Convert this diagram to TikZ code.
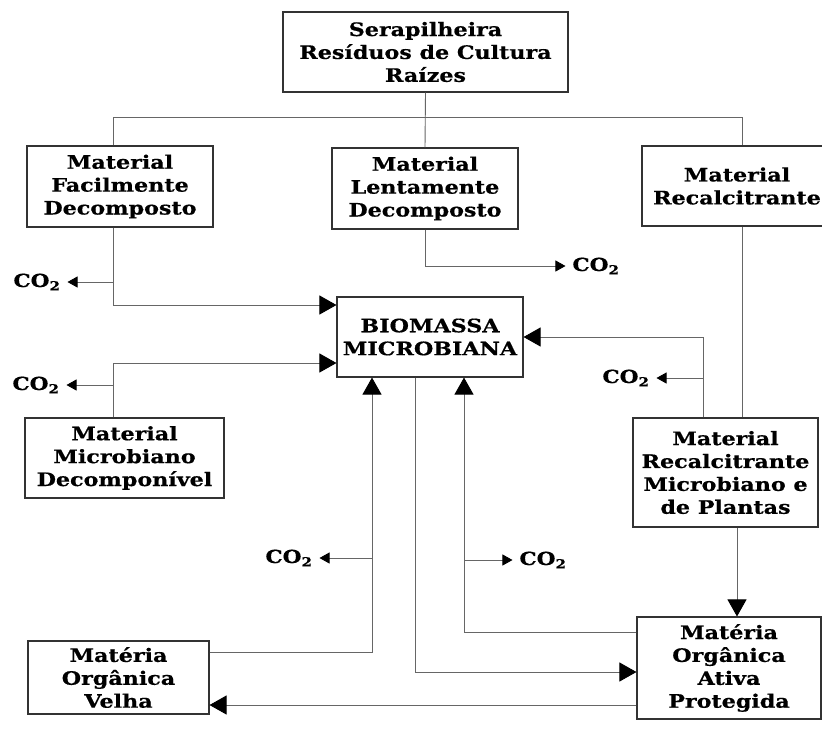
\documentclass[tikz,border=0pt]{standalone}
\usepackage{fontspec}
\setmainfont[FakeStretch=1.2, BoldFeatures={FakeBold=0.6}]{DejaVu Serif}
\usetikzlibrary{arrows.meta}
\begin{document}
\begin{tikzpicture}[x=1pt,y=-1pt,
  box/.style={draw=black!80, line width=1.1pt, align=center, inner sep=0pt,
    font=\bfseries\fontsize{18.5}{22.9}\selectfont},
  link/.style={draw=black!60, line width=0.9pt},
  bigarrow/.style={link, -{Triangle[length=17pt,width=19pt,color=black]}},
  smallarrow/.style={link, -{Triangle[length=10pt,width=11pt,color=black]}},
  gas/.style={font=\bfseries\fontsize{18}{20}\selectfont, inner sep=0pt, outer sep=7pt}]
\fill[white] (0,0) rectangle (822,740);
\useasboundingbox (0,0) rectangle (822,740);

% compartments
\node[box, minimum width=285pt, minimum height=80pt] (top) at (425.5,52) {Serapilheira\\Resíduos de Cultura\\Raízes};
\node[box, minimum width=186pt, minimum height=81pt] (fac) at (120,186.5) {Material\\Facilmente\\Decomposto};
\node[box, minimum width=186pt, minimum height=81pt] (lent) at (425,188.5) {Material\\Lentamente\\Decomposto};
\node[box, minimum width=190pt, minimum height=80pt] (rec) at (737,186) {Material\\Recalcitrante};
\node[box, minimum width=186pt, minimum height=80pt] (bio) at (430,337) {BIOMASSA\\MICROBIANA};
\node[box, minimum width=199pt, minimum height=80pt] (mic) at (124.5,458) {Material\\Microbiano\\Decomponível};
\node[box, minimum width=185pt, minimum height=109pt] (rmp) at (725.5,472.5) {Material\\Recalcitrante\\Microbiano e\\de Plantas};
\node[box, minimum width=181pt, minimum height=73pt] (velha) at (118.5,677.5) {Matéria\\Orgânica\\Velha};
\node[box, minimum width=184pt, minimum height=102pt] (ativa) at (729,668) {Matéria\\Orgânica\\Ativa\\Protegida};

% CO2 outlets
\node[gas] (co1) at (37,282) {CO\textsubscript{2}};
\node[gas] (co2) at (36,385) {CO\textsubscript{2}};
\node[gas] (co3) at (596,266) {CO\textsubscript{2}};
\node[gas] (co4) at (626,378) {CO\textsubscript{2}};
\node[gas] (co5) at (289,558) {CO\textsubscript{2}};
\node[gas] (co6) at (543,560) {CO\textsubscript{2}};

% junction points
\coordinate (bl) at (113,117);
\coordinate (br) at (742,117);
\coordinate (fj) at (113,282);
\coordinate (mj) at (113,385);
\coordinate (rj) at (703,378);
\coordinate (vj) at (372,558);
\coordinate (uj) at (464,560);
\coordinate (dj) at (415,672);
\coordinate (bioA) at ([yshift=32pt]bio.west);
\coordinate (bioB) at ([yshift=-26pt]bio.west);
\coordinate (velA) at ([yshift=25.5pt]velha.east);
\coordinate (velB) at ([yshift=-27.5pt]velha.east);
\coordinate (ativA) at ([yshift=36pt]ativa.west);
\coordinate (rmpS) at ([xshift=11.5pt]rmp.south);

% litter split into the three fractions
\draw[link] (top.south) -- (lent.north);
\draw[link] (fac.north -| bl) -- (bl) -- (br) -- (rec.north -| br);
\draw[link] (rec.south -| br) -- (rmp.north -| br);

% flows into the microbial biomass
\draw[bigarrow] (fac.south -| bl) |- (bioA);
\draw[smallarrow] (fj) -- (co1);
\draw[smallarrow] (lent.south) |- (co3);
\draw[bigarrow] (mic.north -| bl) |- (bioB);
\draw[smallarrow] (mj) -- (co2);
\draw[bigarrow] (rmp.north -| rj) |- (bio.east);
\draw[smallarrow] (rj) -- (co4);
\draw[bigarrow] (velA) -| (bio.south -| vj);
\draw[smallarrow] (vj) -- (co5);
\draw[bigarrow] (ativA) -| (bio.south -| uj);
\draw[smallarrow] (uj) -- (co6);

% flows into the organic matter pools
\draw[bigarrow] (bio.south -| dj) |- (ativa.west |- dj);
\draw[bigarrow] (rmpS) -- (rmpS |- ativa.north);
\draw[bigarrow] (ativa.west |- velB) -- (velB);
\end{tikzpicture}
\end{document}
